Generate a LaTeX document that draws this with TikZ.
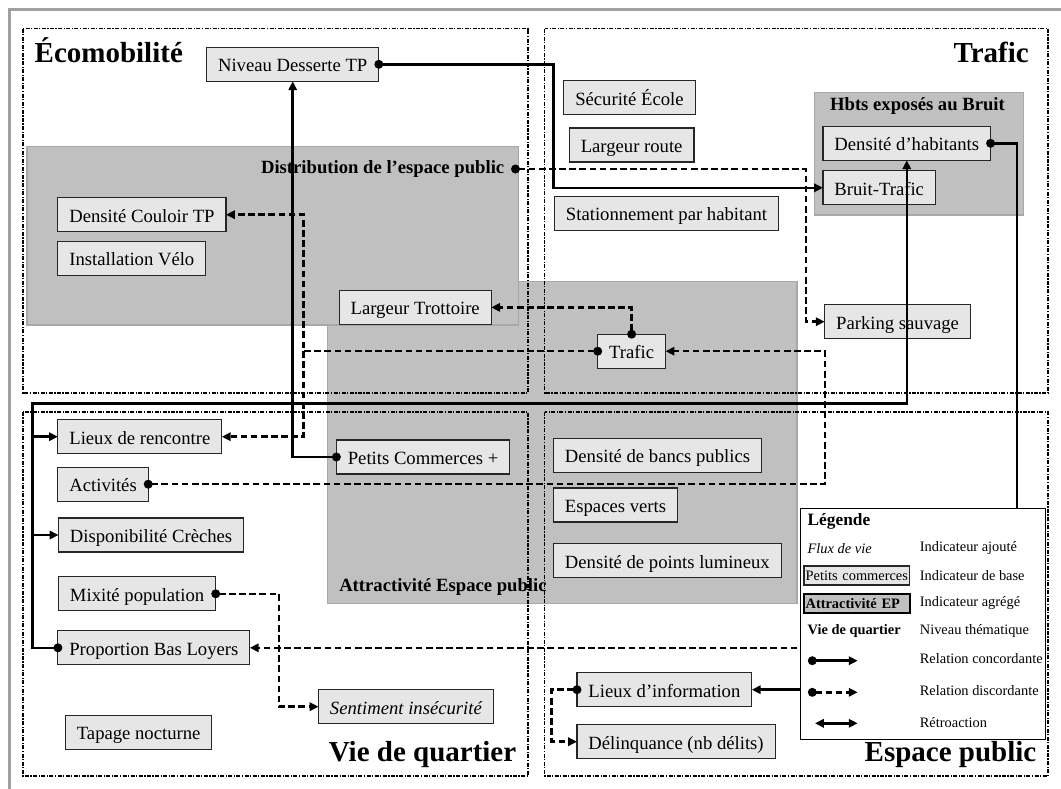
\documentclass[tikz,border=0pt]{standalone}
\usepackage{fontspec}
\setmainfont{Liberation Serif}
\usetikzlibrary{arrows.meta}
\definecolor{boxfill}{HTML}{E6E6E6}
\definecolor{panelfill}{HTML}{C0C0C0}
\definecolor{panelline}{HTML}{A8A8A8}
\definecolor{framegray}{HTML}{A0A0A0}

\begin{document}
\begin{tikzpicture}[x=0.75pt,y=-0.75pt,
  % indicator boxes
  ind/.style={draw=black!85, line width=0.8pt, fill=boxfill, anchor=west,
    minimum height=25.5pt, inner xsep=8.6pt, inner ysep=0pt,
    text height=11.2pt, text depth=0pt, outer sep=0pt,
    font=\fontsize{14pt}{16pt}\selectfont},
  panel/.style={draw=panelline, line width=0.8pt, fill=panelfill},
  zone/.style={draw=black, line width=1pt,
    dash pattern=on 3pt off 1.1pt on 0.9pt off 1.1pt},
  zonetitle/.style={font=\fontsize{21.75pt}{24pt}\selectfont\bfseries, inner sep=0pt},
  paneltitle/.style={font=\fontsize{14pt}{16pt}\selectfont\bfseries, inner sep=0pt},
  % relations
  conc/.style={line width=1.9pt, line join=miter,
    {Circle[length=6.6pt]}-{Triangle[length=6.6pt,width=6.2pt]}, shorten <=-3.3pt},
  disc/.style={conc, dash pattern=on 5pt off 2.6pt},
  branch/.style={line width=1.9pt, -{Triangle[length=6.6pt,width=6.2pt]}},
  dbranch/.style={branch, dash pattern=on 5pt off 2.6pt},
  retro/.style={line width=1.9pt, {Triangle[length=6.6pt,width=6.2pt]}-{Triangle[length=6.6pt,width=6.2pt]}},
  legtext/.style={font=\fontsize{10.8pt}{13pt}\selectfont, anchor=west, inner sep=0pt},
  legbox/.style={anchor=west, minimum height=14.25pt, inner xsep=1.2pt, inner ysep=0pt,
    text width=77pt, align=left, outer sep=0pt, font=\fontsize{10.8pt}{13pt}\selectfont}
]
\useasboundingbox (0,0) rectangle (1061,789);
\clip (0,0) rectangle (1061,789);
\fill[white] (0,0) rectangle (1061,789);

% outer frame
\draw[framegray, line width=2.4pt] (9.3,800) -- (9.3,9.5) -- (1070,9.5);

% aggregated indicators (grey panels)
\draw[panel] (327.5,281.7) rectangle (797,603.3);
\draw[panel] (27,146.7) rectangle (518.2,325);
\draw[panel] (814.3,92.3) rectangle (1023.8,215);
\node[paneltitle, anchor=east, inner xsep=8.25pt] (distlbl) at (515.5,169) {Distribution de l’espace public};
\node[paneltitle, anchor=base] (hbtslbl) at (917.5,110) {Hbts exposés au Bruit};
\node[paneltitle, anchor=base west] (attrlbl) at (339,591.7) {Attractivité Espace public};

% thematic zones
\draw[zone] (23,28.5) rectangle (528,393);
\draw[zone] (544.5,28.5) rectangle (1048,393);
\draw[zone] (23,412) rectangle (528,776);
\draw[zone] (544.5,412) rectangle (1048,776);

\node[zonetitle, anchor=base west] (tEco) at (34.4,62.5) {Écomobilité};
\node[zonetitle, anchor=base east] (tTraf) at (1029,62.5) {Trafic};
\node[zonetitle, anchor=base east] (tVie) at (516.5,761.7) {Vie de quartier};
\node[zonetitle, anchor=base east] (tEsp) at (1036.6,761.7) {Espace public};

% Ecomobilite
\node[ind] (niveau) at (206.6,64.3) {Niveau Desserte TP};
\node[ind] (couloir) at (57.9,214.7) {Densité Couloir TP};
\node[ind] (velo) at (57.9,258.2) {Installation Vélo};
\node[ind] (larg) at (339.2,307.4) {Largeur Trottoire};

% Trafic
\node[ind] (secu) at (563.8,97.8) {Sécurité École};
\node[ind] (lroute) at (569.3,145) {Largeur route};
\node[ind] (stat) at (554.5,213.3) {Stationnement par habitant};
\node[ind] (dens) at (823,143.3) {Densité d’habitants};
\node[ind] (bruit) at (823,187.8) {Bruit-Trafic};
\node[ind] (parking) at (824.7,321.7) {Parking sauvage};
\node[ind] (traf) at (597.7,351.2) {Trafic};

% Vie de quartier
\node[ind] (lr) at (57.9,436.7) {Lieux de rencontre};
\node[ind] (act) at (57.9,484.2) {Activités};
\node[ind] (crech) at (58.5,535) {Disponibilité Crèches};
\node[ind] (mix) at (58.5,593.8) {Mixité population};
\node[ind] (pbl) at (57.9,647.8) {Proportion Bas Loyers};
\node[ind] (tap) at (65.4,732.2) {Tapage nocturne};
\node[ind] (sent) at (318.5,706.7) {\itshape Sentiment insécurité};
\node[ind] (pc) at (336.4,457) {Petits Commerces +};

% Espace public
\node[ind] (bancs) at (553.5,455.3) {Densité de bancs publics};
\node[ind] (verts) at (553.5,505) {Espaces verts};
\node[ind] (lum) at (553.5,560.8) {Densité de points lumineux};
\node[ind] (info) at (577,689.7) {Lieux d’information};
\node[ind] (delinq) at (577,741.7) {Délinquance (nb délits)};

% routing columns and rows
\coordinate (jn) at (553.5,0);
\coordinate (jr) at (1017,0);
\coordinate (jl) at (32.3,0);
\coordinate (jt) at (0,403.5);
\coordinate (jd) at (303.7,0);
\coordinate (ja) at (825,0);
\coordinate (jp) at (806,0);
\coordinate (jm) at (279,0);
\coordinate (ji) at (551.7,0);
\coordinate (hid) at (1000,647.8);

% concordant relations
\draw[conc] (pc.west) -| (niveau.south);
\draw[conc] (niveau.east) -- (niveau.east -| jn) |- (bruit.west);
\draw[conc] (dens.east) -- (dens.east -| jr) -- (info.east -| jr) -- (info.east);
\draw[conc] (pbl.west) -- (pbl.west -| jl) -- (jl |- jt) -- (dens.south |- jt) -- (dens.south);
\draw[branch] (lr.west -| jl) -- (lr.west);
\draw[branch] (crech.west -| jl) -- (crech.west);

% discordant relations
\draw[disc] (traf.west) -- (traf.west -| jd) |- (couloir.east);
\draw[dbranch] (traf.west -| jd) |- (lr.east);
\draw[disc] (traf.north) |- (larg.east);
\draw[disc] (act.east) -- (act.east -| ja) -- (traf.east -| ja) -- (traf.east);
\draw[disc] (distlbl.east) -- (distlbl.east -| jp) |- (parking.west);
\draw[disc] (mix.east) -- (mix.east -| jm) |- (sent.west);
\draw[disc] (info.west) -- (info.west -| ji) |- (delinq.west);
\draw[dbranch] (hid) -- (pbl.east);

% legend
\node[draw=black, line width=0.8pt, fill=white, anchor=north west, inner sep=0pt, outer sep=0pt,
  minimum width=183.75pt, minimum height=173.25pt] (legend) at (800.2,508.3) {};
\node[legtext, font=\fontsize{13pt}{15pt}\selectfont\bfseries] (lgTitle) at (807.4,521.7) {Légende};
\node[legtext, font=\fontsize{10.8pt}{13pt}\selectfont\itshape] (lgFlux) at (807.4,548.3) {Flux de vie};
\node[legbox, draw=black!85, line width=0.8pt, fill=boxfill] (lgBase) at (804,575.5) {\mbox{Petits commerces}};
\node[legbox, draw=black, line width=1.1pt, fill=panelfill, font=\fontsize{10.8pt}{13pt}\selectfont\bfseries] (lgAgg) at (804,603.3) {\mbox{Attractivité EP}};
\node[legtext, font=\fontsize{10.8pt}{13pt}\selectfont\bfseries] (lgTheme) at (807.4,631) {Vie de quartier};
\node[legtext] (lgT1) at (919.6,548.3) {Indicateur ajouté};
\node[legtext] (lgT2) at (919.6,575.5) {Indicateur de base};
\node[legtext] (lgT3) at (919.6,603.3) {Indicateur agrégé};
\node[legtext] (lgT4) at (919.6,631) {Niveau thématique};
\node[legtext] (lgT5) at (919.6,658.7) {Relation concordante};
\node[legtext] (lgT6) at (919.6,691) {Relation discordante};
\node[legtext] (lgT7) at (919.6,723) {Rétroaction};
\coordinate (lc1) at (812.3,660.7);
\coordinate (lc2) at (857.7,660.7);
\coordinate (ld1) at (812.3,692.3);
\coordinate (ld2) at (857.7,692.3);
\coordinate (lb1) at (815,723.3);
\coordinate (lb2) at (857.7,723.3);
\draw[conc] (lc1) -- (lc2);
\draw[disc] (ld1) -- (ld2);
\draw[retro] (lb1) -- (lb2);
\end{tikzpicture}
\end{document}
